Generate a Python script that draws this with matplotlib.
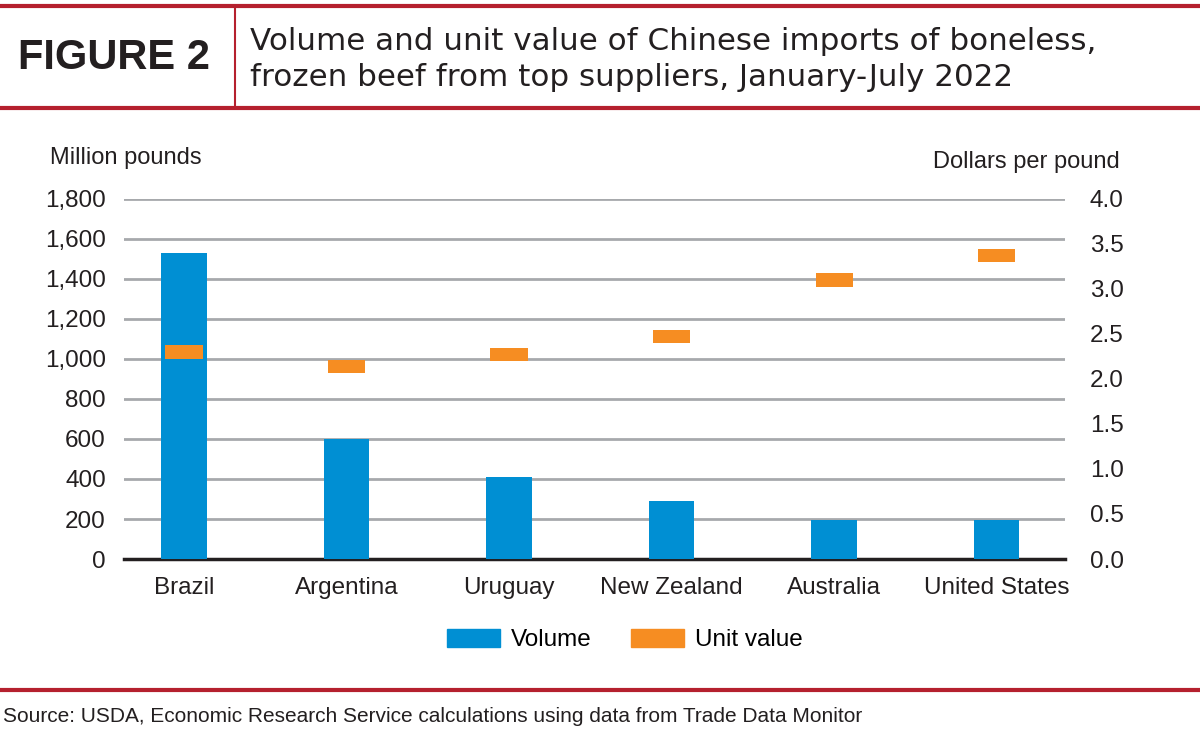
import numpy as np
import matplotlib.pyplot as plt
from matplotlib.patches import Patch

##### data
countries = ['Brazil', 'Argentina', 'Uruguay', 'New Zealand', 'Australia', 'United States']
volume = [1531, 600, 410, 290, 197, 197]          # million pounds
unit_value = [2.30, 2.14, 2.27, 2.47, 3.10, 3.37]  # dollars per pound

left_ticks = [0, 200, 400, 600, 800, 1000, 1200, 1400, 1600, 1800]
right_ticks = [0.0, 0.5, 1.0, 1.5, 2.0, 2.5, 3.0, 3.5, 4.0]

blue = '#008fd3'
orange = '#f68d22'
red = '#b5202e'
ink = '#231f20'
narrow = ['Liberation Sans Narrow', 'Liberation Sans', 'DejaVu Sans']

fig = plt.figure(figsize=(12, 7.4), dpi=100)

######## header and footer rules
fig.add_artist(plt.Line2D([0, 1], [1 - 6/740, 1 - 6/740], color=red, lw=3))
fig.add_artist(plt.Line2D([0, 1], [1 - 108/740, 1 - 108/740], color=red, lw=3))
fig.add_artist(plt.Line2D([235/1200, 235/1200], [1 - 108/740, 1 - 6/740], color=red, lw=1.5))
fig.add_artist(plt.Line2D([0, 1], [1 - 690/740, 1 - 690/740], color=red, lw=3))

fig.text(18/1200, 1 - 58/740, 'FIGURE 2', fontsize=30, fontweight='bold',
         family=narrow, color=ink, va='center', ha='left')
fig.text(250/1200, 1 - 41/740, 'Volume and unit value of Chinese imports of boneless,',
         fontsize=22.3, family=['DejaVu Sans'], color=ink, va='center')
fig.text(250/1200, 1 - 78/740, 'frozen beef from top suppliers, January-July 2022',
         fontsize=22.3, family=['DejaVu Sans'], color=ink, va='center')

######## chart
ax = fig.add_axes([124/1200, 1 - 559/740, (1065 - 124)/1200, (559 - 199)/740])
ax2 = ax.twinx()
x = np.arange(len(countries))

ax.bar(x, volume, width=0.28, color=blue, zorder=3)
ax.set_ylim(0, 1800)
ax.set_yticks(left_ticks)
ax.set_yticklabels([f'{v:,}' for v in left_ticks], family=narrow, fontsize=17.5)
ax.grid(axis='y', color='#a7a9ac', lw=2, zorder=0)
ax.set_axisbelow(True)
ax.set_xlim(-0.37, 5.42)
ax.set_xticks(x)
ax.set_xticklabels(countries, family=narrow, fontsize=17.5)
ax.tick_params(length=0, pad=13, colors=ink)
for s in ['top', 'left', 'right']:
    ax.spines[s].set_visible(False)
    ax2.spines[s].set_visible(False)
ax.spines['bottom'].set_linewidth(2.5)
ax.spines['bottom'].set_color(ink)
ax2.spines['bottom'].set_visible(False)

h = 0.145
ax2.bar(x, [h] * len(x), bottom=[v - h/2 for v in unit_value], width=0.23,
        color=orange, zorder=4)
ax2.set_ylim(0, 4.0)
ax2.set_yticks(right_ticks)
ax2.set_yticklabels([f'{v:.1f}' for v in right_ticks], family=narrow, fontsize=17.5)
ax2.tick_params(length=0, pad=18, colors=ink)

fig.text(50/1200, 1 - 158/740, 'Million pounds', family=narrow, fontsize=17,
         va='center', ha='left', color=ink)
fig.text(1120/1200, 1 - 162/740, 'Dollars per pound', family=narrow, fontsize=17,
         va='center', ha='right', color=ink)

handles = [Patch(color=blue, label='Volume'), Patch(color=orange, label='Unit value')]
fig.legend(handles=handles, loc='center', bbox_to_anchor=(625/1200, 1 - 640/740), ncol=2,
           frameon=False, prop={'family': narrow, 'size': 17.5},
           handlelength=2.2, handleheight=0.75, columnspacing=1.6, handletextpad=0.45)

fig.text(3/1200, 1 - 717/740,
         'Source: USDA, Economic Research Service calculations using data from Trade Data Monitor',
         family=['Liberation Sans', 'DejaVu Sans'], fontsize=15, va='center', color=ink)

plt.savefig('out.png', dpi=100)
